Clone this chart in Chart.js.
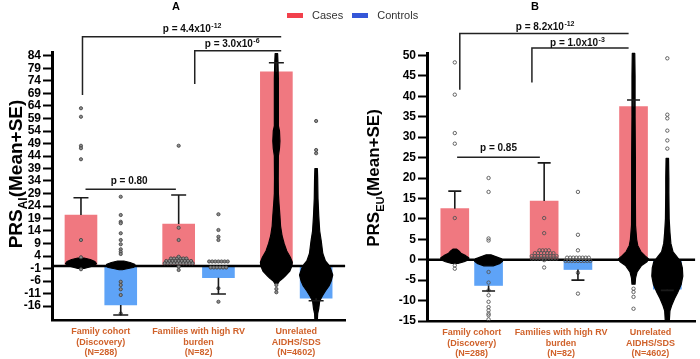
<!DOCTYPE html>
<html>
<head>
<meta charset="utf-8">
<script src="https://cdn.jsdelivr.net/npm/chart.js@4.4.1/dist/chart.umd.min.js"></script>
<style>
  body { margin: 0; width: 700px; height: 359px; background: #fff; position: relative; overflow: hidden;
         font-family: "Liberation Sans", Arial, sans-serif; }
  .panel { position: absolute; top: 0; width: 350px; height: 359px; }
  #legend { position: absolute; top: 9px; left: 287px; display: flex; align-items: center; font-size: 11px; color: #333; }
  #legend .sw { display: inline-block; width: 16px; height: 5px; margin-right: 9px; }
  #legend .lab { margin-right: 9px; }
</style>
</head>
<body>
<div class="panel" style="left:0"><canvas id="chartA"></canvas></div>
<div class="panel" style="left:350px"><canvas id="chartB"></canvas></div>
<div id="legend"></div>
<script>
const categories = [
  ['Family cohort', '(Discovery)', '(N=288)'],
  ['Families with high RV', 'burden', '(N=82)'],
  ['Unrelated', 'AIDHS/SDS', '(N=4602)']
];
const seriesNames = ['Cases', 'Controls'];

// ---- panel A : PRS_AI ----
const casesA = [20.4, 16.8, 77.7];
const casesSeA = [6.9, 11.6, 3.6];
const controlsA = [-15.6, -4.7, -12.9];
const controlsSeA = [4.0, 6.5, 1.0];
const ticksA = [-16, -11, -6, -1, 4, 9, 14, 19, 24, 29, 34, 39, 44, 49, 54, 59, 64, 69, 74, 79, 84];

// single subjects (one list per group)
const caseDotsA = [[63.1, 59.7, 48.1, 47.1, 42.7, 10.4, 3.5, -1.3], [48.1, 15.3, 10.4, 3.7, -0.3, -1.6], [-7.6, -9.2, -10.5]];
const controlDotsA = [[27.7, 20.4, 17.7, 17.1, 13.1, 10.4, 8.7, 6.7, 5.7, 4.8, -6.3, -7.6, -9.3, -11.6, -19.0],
                      [20.7, 14.4, 11.7, 10.4, -8.9, -14.3], [58.0, 46.4, 45.1]];
// rows of subjects with the same score: [value, count]
const caseRowsA = [[], [[3.0, 6], [2.0, 9], [1.1, 10]], []];
const controlRowsA = [[], [[1.8, 7], [-0.6, 6]], []];
// dense swarms: [value, subjects side by side]
const caseSwarmA = [
  [[3.2, 2], [2.6, 6], [1.8, 9], [1.0, 10], [0.2, 9], [-0.5, 5], [-1.0, 2]],
  [],
  [[85, 0.8], [82, 1], [75, 1.3], [65, 1.3], [56, 1.3], [54, 2], [50, 2.3], [47, 2], [44, 1.3], [35, 1.2], [29, 1.3],
   [25, 1.7], [20, 2.3], [16, 2.7], [12, 3.7], [9, 5], [6, 6.7], [3.5, 9], [1.5, 10.3], [0, 10], [-2, 8.7],
   [-4, 5.7], [-5, 4], [-6, 2], [-7, 1]]
];
const controlSwarmA = [
  [[2.0, 2], [1.4, 6], [0.7, 9], [0, 9.5], [-0.6, 8], [-1.1, 4], [-1.5, 1]],
  [],
  [[39, 0.8], [35, 1], [27, 1.2], [20, 1.7], [14, 2.3], [10, 3.3], [5, 4.3], [2, 6], [0.5, 8], [-1, 9.3],
   [-3.6, 10.7], [-6, 9.7], [-8, 8.3], [-10, 6], [-12, 4], [-14, 2.3], [-17, 1.7], [-19, 1], [-21.5, 0.8]]
];
const pTextA = ['p = 4.4x10', 'p = 3.0x10', 'p = 0.80'];
const pExpA = ['-12', '-6', ''];

// ---- panel B : PRS_EU ----
const casesB = [12.5, 14.35, 37.5];
const casesSeB = [4.3, 9.35, 1.6];
const controlsB = [-6.3, -2.4, -7.2];
const controlsSeB = [1.35, 2.6, 0.3];
const ticksB = [-15, -10, -5, 0, 5, 10, 15, 20, 25, 30, 35, 40, 45, 50];

const caseDotsB = [[48.3, 40.4, 31.0, 28.4, 10.2, -1.4, -2.2], [10.2, 6.5, -0.1, -1.9], [-7.1, -7.9, -9.1, -12.0]];
const controlDotsB = [[20.0, 16.6, 5.2, 4.7, -3.0, -5.6, -7.5, -8.7, -10.3, -11.6, -12.4, -13.2, -13.6, -14.6],
                      [16.6, 6.1, 2.3, -3.2, -8.3], [49.3, 35.5, 34.6, 31.6, 29.2, 27.2]];
const caseRowsB = [[], [[2.3, 4], [1.6, 7], [0.9, 9], [0.3, 9]], []];
const controlRowsB = [[], [[0.5, 8], [-0.3, 9]], []];
const caseSwarmB = [
  [[2.6, 1], [2.2, 2.5], [1.6, 4], [1.0, 7], [0.5, 9], [0, 9], [-0.5, 6], [-0.9, 2]],
  [],
  [[50.5, 0.8], [45, 1], [35, 1], [25, 1.2], [15, 1.2], [8.4, 1.3], [5, 2], [3.5, 2.7], [2, 4.7], [1, 7.3],
   [0.2, 9.7], [-0.5, 8.7], [-1.5, 5], [-3, 2.3], [-4.5, 1.3], [-6, 1]]
];
const controlSwarmB = [
  [[1.2, 1.5], [0.7, 5], [0.2, 8.5], [-0.4, 9], [-1.0, 7], [-1.5, 3]],
  [],
  [[24.8, 0.8], [20, 1], [16.5, 1], [10, 1.2], [6.7, 1.7], [4, 2.3], [1.9, 3.7], [0.8, 6], [-0.5, 8.7], [-2, 9.7],
   [-4, 10], [-6, 9], [-8, 6.7], [-9.5, 4.7], [-11, 3], [-12.5, 1.7], [-15, 1.3]]
];
const pTextB = ['p = 8.2x10', 'p = 1.0x10', 'p = 0.85'];
const pExpB = ['-12', '-3', ''];

const FONT = '"Liberation Sans", Arial, sans-serif';
const barColors = ['#f07880', '#5ea3f7'];
const legendColors = ['#f2404c', '#3557d8'];

// legend shared by both panels
const legend = document.getElementById('legend');
seriesNames.forEach((name, i) => {
  legend.insertAdjacentHTML('beforeend',
    `<span class="sw" style="background:${legendColors[i]}"></span><span class="lab">${name}</span>`);
});

const decor = {
  id: 'decor',
  afterDatasetDraw(chart, args, opts) {
    if (args.index !== 0) return; // Cases bars are the last bars drawn
    const { ctx, chartArea, scales: { y } } = chart;
    const y0 = y.getPixelForValue(0);
    ctx.save();
    ctx.strokeStyle = '#000';
    ctx.lineWidth = 2.5;
    ctx.beginPath();
    ctx.moveTo(chartArea.left, y0);
    ctx.lineTo(chartArea.right, y0);
    ctx.stroke();

    [opts.caseSwarm, opts.controlSwarm].forEach((groups, k) => {
      const bars = chart.getDatasetMeta(k).data;
      groups.forEach((prof, i) => {
        if (!prof.length) return;
        const cx = bars[i].x;
        ctx.beginPath();
        prof.forEach(([v, n]) => ctx.lineTo(cx + n * opts.dot / 2, y.getPixelForValue(v)));
        for (let j = prof.length - 1; j >= 0; j--) {
          ctx.lineTo(cx - prof[j][1] * opts.dot / 2, y.getPixelForValue(prof[j][0]));
        }
        ctx.closePath();
        ctx.fillStyle = '#000';
        ctx.fill();
        ctx.lineJoin = 'round';
        ctx.lineWidth = 1.2;
        ctx.stroke();
      });
    });

    [opts.caseRows, opts.controlRows].forEach((groups, k) => {
      const bars = chart.getDatasetMeta(k).data;
      groups.forEach((rows, i) => {
        rows.forEach(([v, n]) => {
          for (let j = 0; j < n; j++) {
            const px = bars[i].x + (j - (n - 1) / 2) * opts.dot;
            ctx.beginPath();
            ctx.arc(px, y.getPixelForValue(v), opts.radius, 0, Math.PI * 2);
            ctx.fillStyle = opts.dotFill;
            ctx.fill();
            ctx.lineWidth = 0.9;
            ctx.strokeStyle = opts.dotLine;
            ctx.stroke();
          }
        });
      });
    });
    ctx.restore();
  },
  afterDatasetsDraw(chart, args, opts) {
    const { ctx, scales: { y, xs } } = chart;
    ctx.save();
    // error bars (mean + SE)
    [[opts.cases, opts.casesSe], [opts.controls, opts.controlsSe]].forEach(([means, ses], k) => {
      const bars = chart.getDatasetMeta(k).data;
      means.forEach((m, i) => {
        const x = bars[i].x;
        const end = y.getPixelForValue(m + Math.sign(m) * ses[i]);
        ctx.strokeStyle = '#1a1a1a';
        ctx.lineWidth = 1.6;
        ctx.beginPath();
        ctx.moveTo(x, y.getPixelForValue(m));
        ctx.lineTo(x, end);
        ctx.moveTo(x - opts.cap / 2, end);
        ctx.lineTo(x + opts.cap / 2, end);
        ctx.stroke();
      });
    });
    // significance brackets
    opts.brackets.forEach((b, i) => {
      const x1 = xs.getPixelForValue(b.from), x2 = xs.getPixelForValue(b.to);
      const yl = y.getPixelForValue(b.level);
      ctx.strokeStyle = '#222';
      ctx.lineWidth = 1.5;
      ctx.beginPath();
      if (b.leg != null) {
        ctx.moveTo(x1, y.getPixelForValue(b.leg));
        ctx.lineTo(x1, yl);
      } else {
        ctx.moveTo(x1, yl);
      }
      ctx.lineTo(x2, yl);
      ctx.stroke();
      const txt = opts.pText[i], exp = opts.pExp[i];
      ctx.fillStyle = '#111';
      ctx.textAlign = 'left';
      ctx.textBaseline = 'alphabetic';
      ctx.font = `bold 10px ${FONT}`;
      const w1 = ctx.measureText(txt).width;
      ctx.font = `bold 7px ${FONT}`;
      const w2 = exp ? ctx.measureText(exp).width + 0.5 : 0;
      const left = xs.getPixelForValue(b.textAt) - (w1 + w2) / 2;
      ctx.font = `bold 10px ${FONT}`;
      ctx.fillText(txt, left, yl - b.gap);
      if (exp) {
        ctx.font = `bold 7px ${FONT}`;
        ctx.fillText(exp, left + w1 + 0.5, yl - b.gap - 4);
      }
    });
    ctx.restore();
  },
  afterDraw(chart, args, opts) {
    const { ctx } = chart;
    ctx.save();
    ctx.fillStyle = '#000';
    ctx.textBaseline = 'middle';
    ctx.textAlign = 'center';
    ctx.font = `bold 11px ${FONT}`;
    ctx.fillText(opts.letter, opts.letterX, opts.letterY);
    // y axis title with subscript
    ctx.translate(opts.titleX, opts.titleY);
    ctx.rotate(-Math.PI / 2);
    ctx.textAlign = 'left';
    ctx.textBaseline = 'alphabetic';
    const big = `bold ${opts.titleSize}px ${FONT}`, small = `bold ${Math.round(opts.titleSize * 0.62)}px ${FONT}`;
    const parts = [['PRS', big, 0], [opts.sub, small, opts.titleSize * 0.28], ['(Mean+SE)', big, 0]];
    let total = 0;
    parts.forEach(([t, f]) => { ctx.font = f; total += ctx.measureText(t).width; });
    let x = -total / 2;
    parts.forEach(([t, f, dy]) => {
      ctx.font = f;
      ctx.fillText(t, x, opts.titleSize * 0.36 + dy);
      x += ctx.measureText(t).width;
    });
    ctx.restore();
  }
};

// category i sits at i + 1 on the hidden linear axis "xs"
function barPoints(values, shift) {
  return values.map((v, i) => ({ x: i + 1 + shift, y: v }));
}
function dotPoints(groups, shift) {
  return groups.flatMap((vals, i) => vals.map((v) => ({ x: i + 1 + shift, y: v })));
}

function makePanel(p) {
  const barStyle = { xAxisID: 'xs', grouped: false, barThickness: p.barWidth, borderWidth: 0 };
  const dotStyle = {
    type: 'scatter', xAxisID: 'xs', order: 1,
    pointRadius: p.radius, pointBackgroundColor: p.dotFill, pointBorderColor: p.dotLine, pointBorderWidth: 0.9
  };
  new Chart(document.getElementById(p.canvas), {
    type: 'bar',
    data: {
      labels: categories,
      datasets: [
        { ...barStyle, label: seriesNames[0], data: barPoints(p.cases, -p.shift), backgroundColor: barColors[0], order: 2 },
        { ...barStyle, label: seriesNames[1], data: barPoints(p.controls, p.shift), backgroundColor: barColors[1], order: 3 },
        { ...dotStyle, label: 'case subjects', data: dotPoints(p.caseDots, -p.shift) },
        { ...dotStyle, label: 'control subjects', data: dotPoints(p.controlDots, p.shift) }
      ]
    },
    options: {
      responsive: true,
      maintainAspectRatio: false,
      animation: false,
      events: [],
      layout: { padding: { top: p.top, right: 3, left: 0, bottom: 0 } },
      scales: {
        x: {
          type: 'category',
          offset: true,
          grid: { display: false, drawTicks: false },
          border: { display: true, color: '#000', width: 2.5 },
          afterFit: (axis) => { axis.height = p.xHeight; },
          ticks: { color: '#d0622b', padding: 6, maxRotation: 0, autoSkip: false,
                   font: { family: FONT, size: 9, weight: 'bold', lineHeight: 1.2 } }
        },
        xs: { type: 'linear', display: false, offset: false, min: 0.5, max: 3.5 },
        y: {
          min: p.min, max: p.max,
          afterBuildTicks: (axis) => { axis.ticks = p.ticks.map((v) => ({ value: v })); },
          afterFit: (axis) => { axis.width = p.yWidth; },
          grid: { drawOnChartArea: false, tickLength: 9, tickWidth: 2, tickColor: '#000' },
          border: { display: true, color: '#000', width: 3 },
          ticks: { color: '#000', padding: 2, autoSkip: false,
                   font: { family: FONT, size: p.tickSize, weight: 'bold', lineHeight: 1 } }
        }
      },
      plugins: {
        legend: { display: false },
        tooltip: { enabled: false },
        decor: {
          cases: p.cases, casesSe: p.casesSe, controls: p.controls, controlsSe: p.controlsSe,
          caseSwarm: p.caseSwarm, controlSwarm: p.controlSwarm, caseRows: p.caseRows, controlRows: p.controlRows,
          brackets: p.brackets, pText: p.pText, pExp: p.pExp,
          dot: 3.1, radius: p.radius, dotFill: p.dotFill, dotLine: p.dotLine, cap: p.cap,
          letter: p.letter, letterX: p.letterX, letterY: 7,
          sub: p.sub, titleX: p.titleX, titleY: p.titleY, titleSize: p.titleSize
        }
      }
    },
    plugins: [decor]
  });
}

makePanel({
  canvas: 'chartA', letter: 'A', letterX: 176, sub: 'AI', titleX: 15, titleY: 174, titleSize: 19,
  cases: casesA, casesSe: casesSeA, controls: controlsA, controlsSe: controlsSeA,
  caseDots: caseDotsA, controlDots: controlDotsA, caseRows: caseRowsA, controlRows: controlRowsA,
  caseSwarm: caseSwarmA, controlSwarm: controlSwarmA, pText: pTextA, pExp: pExpA,
  ticks: ticksA, min: -21.6, max: 85.6, top: 52, xHeight: 39, yWidth: 52, tickSize: 12,
  shift: 0.2035, barWidth: 32, cap: 15, radius: 1.6, dotFill: '#8d8d8d', dotLine: '#444',
  brackets: [
    { from: 0.812, to: 2.846, level: 91.7, leg: 68.4, textAt: 1.934, gap: 4.5 },
    { from: 1.961, to: 2.846, level: 86.1, leg: 72.8, textAt: 2.344, gap: 3.5 },
    { from: 0.843, to: 1.768, level: 30.7, leg: null, textAt: 1.29, gap: 5 }
  ]
});

makePanel({
  canvas: 'chartB', letter: 'B', letterX: 185, sub: 'EU', titleX: 23, titleY: 178, titleSize: 17,
  cases: casesB, casesSe: casesSeB, controls: controlsB, controlsSe: controlsSeB,
  caseDots: caseDotsB, controlDots: controlDotsB, caseRows: caseRowsB, controlRows: controlRowsB,
  caseSwarm: caseSwarmB, controlSwarm: controlSwarmB, pText: pTextB, pExp: pExpB,
  ticks: ticksB, min: -15, max: 50.6, top: 53, xHeight: 38, yWidth: 77, tickSize: 12,
  shift: 0.189, barWidth: 28, cap: 13, radius: 1.7, dotFill: 'rgba(255,255,255,0)', dotLine: '#555',
  brackets: [
    { from: 0.867, to: 2.756, level: 55.4, leg: 41.6, textAt: 1.822, gap: 3 },
    { from: 1.674, to: 2.756, level: 51.8, leg: 43.4, textAt: 2.183, gap: 2.5 },
    { from: 0.837, to: 1.763, level: 25.1, leg: null, textAt: 1.3, gap: 6 }
  ]
});
</script>
</body>
</html>
